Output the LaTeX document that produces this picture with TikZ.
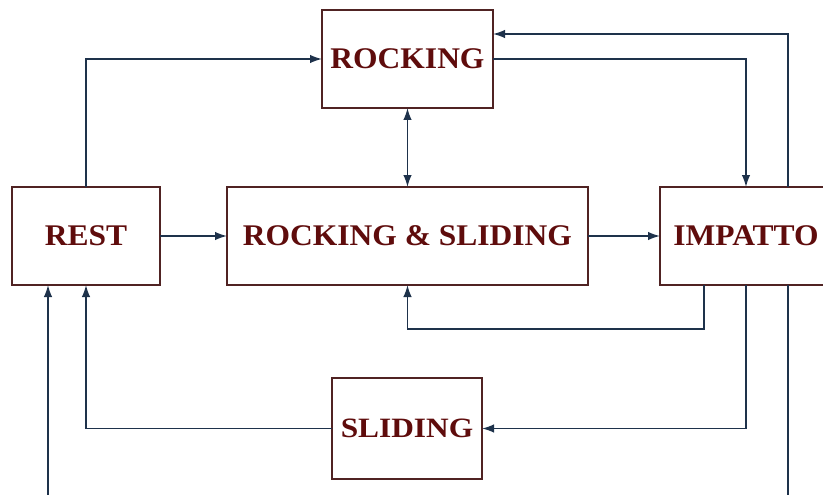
\documentclass[tikz,border=0pt]{standalone}
\usepackage{fontspec}
\setmainfont{Liberation Serif}[FakeStretch=1.05]
\newfontfamily\slfont{Liberation Serif}[FakeStretch=1.12]
\usetikzlibrary{arrows.meta}
\definecolor{txt}{RGB}{95,12,12}
\definecolor{bord}{RGB}{80,35,35}
\definecolor{ln}{RGB}{30,50,75}
\begin{document}
\begin{tikzpicture}[x=1pt,y=-1pt,
  box/.style={draw=bord,line width=1.4pt,rectangle,inner sep=0pt,outer sep=0pt,
    text=txt,font=\fontsize{30}{36}\selectfont\bfseries,minimum height=98pt},
  conn/.style={draw=ln,line width=1.5pt,-{Latex[length=12pt,width=8.5pt]}},
  conn2/.style={draw=ln,line width=1.5pt,{Latex[length=12pt,width=8.5pt]}-{Latex[length=12pt,width=8.5pt]}}]
\useasboundingbox (0,0) rectangle (823,495);
\clip (0,0) rectangle (823,495);
\fill[white] (0,0) rectangle (823,495);
\node[box,minimum width=148pt] (rest) at (86,236) {REST};
\node[box,minimum width=171pt] (rocking) at (407.5,59) {ROCKING};
\node[box,minimum width=361pt] (rs) at (407.5,236) {ROCKING \& SLIDING};
\node[box,minimum width=172pt] (imp) at (746,236) {IMPATTO};
\node[box,minimum width=150pt,minimum height=101pt,font=\fontsize{28}{34}\selectfont\slfont\bfseries] (sl) at (407,428.5) {SLIDING};
% connectors
\draw[conn] (rest.north) |- (rocking.west);
\draw[conn2] (rocking.south) -- (rs.north);
\draw[conn] (rest.east) -- (rs.west);
\draw[conn] (rs.east) -- (imp.west);
\draw[conn] (rocking.east) -| (imp.north);
\draw[conn] ([xshift=42pt]imp.north) |- ([yshift=25pt]rocking.east);
\draw[conn] ([xshift=-42pt]imp.south) -- ++(0,44) -| (rs.south);
\draw[conn] (imp.south) |- (sl.east);
\draw[conn] (sl.west) -| (rest.south);
\draw[conn] ([xshift=42pt]imp.south) -- ++(0,225) -| ([xshift=-38pt]rest.south);
\end{tikzpicture}
\end{document}
